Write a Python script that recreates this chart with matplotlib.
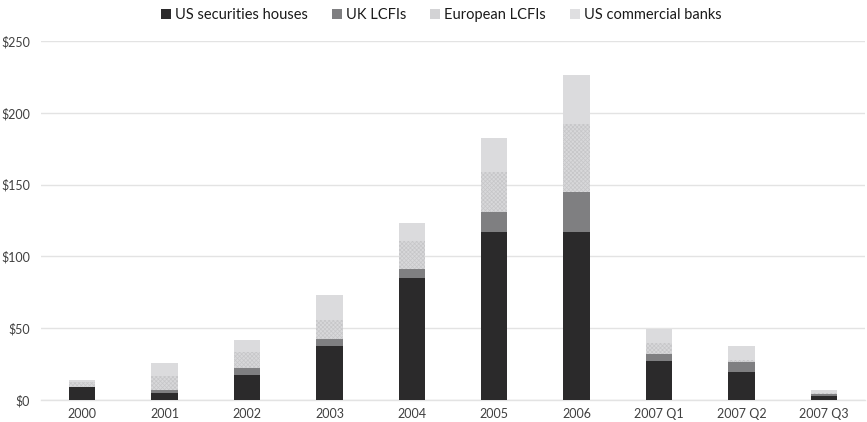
import matplotlib.pyplot as plt
import numpy as np
from matplotlib.patches import Patch

# Stacked exposures by group, $bn
periods = ["2000", "2001", "2002", "2003", "2004", "2005", "2006",
           "2007 Q1", "2007 Q2", "2007 Q3"]
us_securities = [9.3, 4.7, 17.4, 37.8, 84.7, 117.2, 117.2, 27.4, 19.7, 3.0]
uk_lcfis = [0.0, 2.3, 5.1, 4.5, 6.3, 13.9, 27.9, 4.6, 6.8, 1.0]
european_lcfis = [3.1, 9.7, 11.1, 13.4, 19.7, 27.4, 47.1, 7.9, 1.5, 1.1]
us_commercial = [1.6, 8.8, 8.2, 17.4, 12.3, 23.7, 34.1, 9.3, 9.6, 1.7]

plt.rcParams['font.family'] = ['Lato', 'DejaVu Sans']
plt.rcParams['hatch.linewidth'] = 0.5

fig = plt.figure(figsize=(8.67, 4.22), dpi=100)
ax = fig.add_axes([0.0473, 0.0521, 0.9504, 0.8507])

x = np.arange(len(periods))
w = 0.32
bottom = np.zeros(len(periods))

ax.bar(x, us_securities, w, bottom=bottom, color='#2b2a2b', zorder=3)
bottom += us_securities
ax.bar(x, uk_lcfis, w, bottom=bottom, color='#7f7f81', zorder=3)
bottom += uk_lcfis
ax.bar(x, european_lcfis, w, bottom=bottom, facecolor='#d8d8da',
       edgecolor='#c6c6c8', linewidth=0, hatch='xxxxxxxx', zorder=3)
bottom += european_lcfis
ax.bar(x, us_commercial, w, bottom=bottom, color='#dbdbdd', zorder=3)

ax.set_xlim(-0.5, len(periods) - 0.5)
ax.set_ylim(0, 250)
ax.set_yticks(range(0, 251, 50))
ax.set_yticklabels([f"${v}" for v in range(0, 251, 50)])
ax.set_xticks(x)
ax.set_xticklabels(periods)
ax.tick_params(axis='both', length=0, labelsize=9, colors='#404040')
ax.tick_params(axis='y', pad=8)
ax.tick_params(axis='x', pad=6)

ax.grid(axis='y', color='#e3e3e3', linewidth=1, zorder=0)
for side in ['top', 'right', 'left']:
    ax.spines[side].set_visible(False)
ax.spines['bottom'].set_color('#e3e3e3')
ax.spines['bottom'].set_linewidth(1)

handles = [
    Patch(facecolor='#2b2a2b', label='US securities houses'),
    Patch(facecolor='#7f7f81', label='UK LCFIs'),
    Patch(facecolor='#d3d3d5', label='European LCFIs'),
    Patch(facecolor='#dfdfe1', label='US commercial banks'),
]
fig.legend(handles=handles, loc='upper center', bbox_to_anchor=(0.509, 1.012),
           ncol=4, frameon=False, fontsize=10.5, handlelength=0.7,
           handleheight=0.7, handletextpad=0.3, columnspacing=1.6,
           labelcolor='#1a1a1a')

fig.savefig('out.png', dpi=100)
